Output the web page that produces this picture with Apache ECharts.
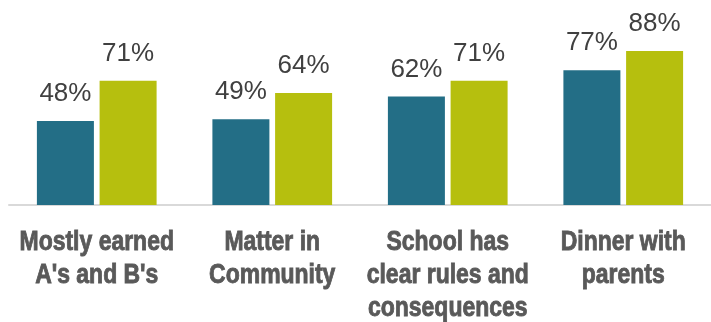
<!DOCTYPE html>
<html>
<head>
<meta charset="utf-8">
<script src="https://cdn.jsdelivr.net/npm/echarts@6/dist/echarts.min.js"></script>
<style>
html,body{margin:0;padding:0;background:#fff;}
#chart{width:711px;height:322px;}
</style>
</head>
<body>
<div id="chart"></div>
<script>
const categories = ["Mostly earned\nA's and B's", "Matter in\nCommunity", "School has\nclear rules and\nconsequences", "Dinner with\nparents"];
const seriesNames = ["Group 1", "Group 2"];
const valuesA = [48, 49, 62, 77];
const valuesB = [71, 64, 71, 88];
const colors = ["#236E86", "#B6BF0E"];

const chart = echarts.init(document.getElementById('chart'), null, {renderer: 'canvas'});
const labelStyle = {
  show: true,
  position: 'top',
  distance: 14,
  formatter: '{c}%',
  fontFamily: '"Liberation Sans", Arial, sans-serif',
  fontSize: 26,
  color: '#404040'
};
chart.setOption({
  animation: false,
  backgroundColor: '#ffffff',
  legend: {show: false},
  grid: {left: 9, top: 30, width: 705.3, height: 175, containLabel: false},
  xAxis: {
    type: 'category',
    data: categories,
    axisLine: {show: true, lineStyle: {color: '#D9D9D9', width: 2}},
    axisTick: {show: false},
    axisLabel: {show: false}
  },
  yAxis: {
    type: 'value',
    min: 0,
    max: 100,
    show: false,
    splitLine: {show: false}
  },
  series: [
    {name: seriesNames[0], type: 'bar', data: valuesA, barWidth: 57, barGap: '10%', itemStyle: {color: colors[0]}, label: labelStyle},
    {name: seriesNames[1], type: 'bar', data: valuesB, barWidth: 57, barGap: '10%', itemStyle: {color: colors[1]}, label: labelStyle}
  ]
});

// Category labels in a condensed bold face, placed with the axis scale
const axisY = chart.convertToPixel({yAxisIndex: 0}, 0);
const labelGraphics = categories.map(function (cat, i) {
  const cx = chart.convertToPixel({xAxisIndex: 0}, i);
  return {
    type: 'text',
    x: cx,
    y: axisY + 21,
    scaleX: 0.82,
    silent: true,
    style: {
      text: cat,
      fontFamily: '"Liberation Sans", Arial, sans-serif',
      fontWeight: 'bold',
      fontSize: 28,
      lineHeight: 33,
      fill: '#595959',
      stroke: '#595959',
      lineWidth: 0.9,
      align: 'center',
      verticalAlign: 'top'
    }
  };
});
chart.setOption({graphic: labelGraphics});
</script>
</body>
</html>
